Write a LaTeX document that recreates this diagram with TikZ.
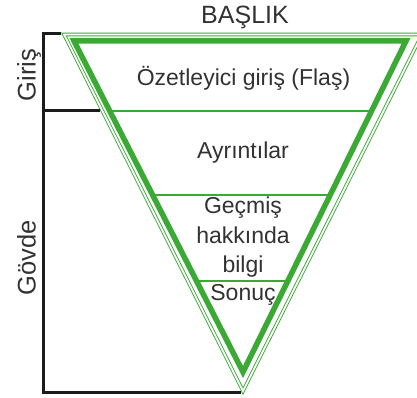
\documentclass[tikz,border=0pt]{standalone}
\usepackage{fontspec}
\setmainfont{Liberation Sans}
\definecolor{ggreen}{RGB}{58,170,53}
\definecolor{tgray}{RGB}{50,50,50}
\definecolor{bblack}{RGB}{28,28,28}
\begin{document}
\begin{tikzpicture}[x=1pt,y=-1pt,
  thickedge/.style={draw=ggreen,line width=5.5pt,line join=miter},
  dbledge/.style={draw=ggreen,line width=0.9pt,double=white,double distance=1.8pt,line join=miter},
  divider/.style={draw=ggreen,line width=1.1pt},
  bracket/.style={draw=bblack,line width=3pt},
  txt/.style={text=tgray,inner sep=0pt,anchor=base,font=\fontsize{23}{27}\selectfont},
  side/.style={text=tgray,inner sep=0pt,anchor=base,rotate=90,font=\fontsize{25.5}{30}\selectfont},
  title/.style={text=tgray,inner sep=0pt,anchor=base,font=\fontsize{25}{30}\selectfont}]
\useasboundingbox (0,0) rectangle (417,398);
% outer double triangle
\coordinate (oL) at (64,34.5);
\coordinate (oR) at (422,34.5);
\coordinate (oA) at (243,391);
\draw[dbledge] (oL) -- (oR) -- (oA) -- cycle;
% thick triangle
\coordinate (iL) at (74,41);
\coordinate (iR) at (406,41);
\coordinate (iA) at (243,372);
\draw[thickedge] (iL) -- (iR) -- (iA) -- cycle;
% dividers
\coordinate (d1l) at (112,111); \coordinate (d1r) at (372,111);
\coordinate (d2l) at (154,195); \coordinate (d2r) at (331,195);
\coordinate (d3l) at (197,281); \coordinate (d3r) at (288,281);
\draw[divider] (d1l) -- (d1r);
\draw[divider] (d2l) -- (d2r);
\draw[divider] (d3l) -- (d3r);
% bracket
\coordinate (bT) at (43,34);
\coordinate (bTt) at (61,34);
\coordinate (bM) at (43,111);
\coordinate (bMt) at (100,111);
\coordinate (bB) at (43,392);
\coordinate (bBt) at (241,392);
\draw[bracket] (bTt) -- (bT) -- (bB) -- (bBt);
\draw[bracket] (bM) -- (bMt);
% texts
\node[title] (baslik) at (245,24) {BAŞLIK};
\node[txt] (ozet) at (243.5,86) {Özetleyici giriş (Flaş)};
\node[txt] (ayr) at (243,159) {Ayrıntılar};
\node[txt] (gec) at (243,213) {Geçmiş};
\node[txt] (hak) at (243,243) {hakkında};
\node[txt] (bil) at (243,272) {bilgi};
\node[txt] (son) at (243,300) {Sonuç};
\node[side] (giris) at (35.5,75) {Giriş};
\node[side] (govde) at (35.5,258) {Gövde};
\end{tikzpicture}
\end{document}
